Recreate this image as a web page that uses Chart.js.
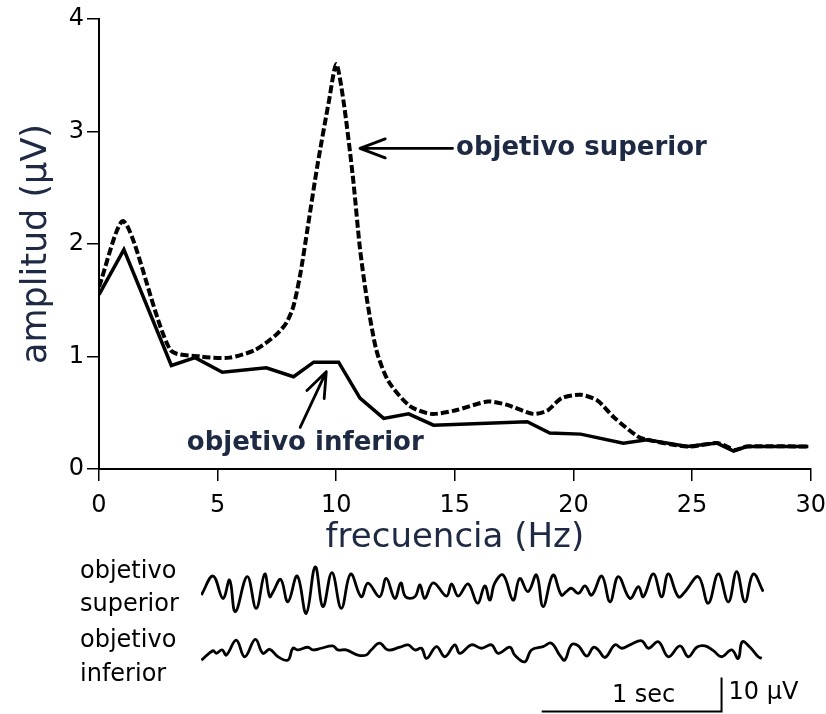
<!DOCTYPE html>
<html>
<head>
<meta charset="utf-8">
<script src="https://cdn.jsdelivr.net/npm/chart.js@4.4.1/dist/chart.umd.min.js"></script>
<style>
  html, body { margin: 0; padding: 0; background: #fff; }
  #wrap { position: relative; width: 826px; height: 714px; overflow: hidden; }
  #espectro { position: absolute; left: 0; top: 0; }
  #trazos { position: absolute; left: 0; top: 555px; }
</style>
</head>
<body>
<div id="wrap">
  <canvas id="espectro" width="836" height="560"></canvas>
  <canvas id="trazos" width="826" height="159"></canvas>
</div>
<script>
// =======================
// DATOS
// =======================
// espectro, objetivo superior (línea discontinua)
const freqSup = [0, 1.05, 3.0, 4.3, 5.5, 6.6, 7.5, 7.9, 8.2, 8.5, 8.8, 9.2, 9.7, 10.0, 10.3, 10.7, 11.0, 11.3, 11.7,
  12.2, 13.1, 14.0, 15.0, 16.4, 17.2, 18.3, 18.9, 19.5, 20.3, 21.0, 21.7, 22.7, 23.1, 24.8, 26.1, 26.8, 27.3, 29.9];
const ampSup = [1.62, 2.2, 1.06, 1.0, 0.99, 1.06, 1.2, 1.3, 1.45, 1.75, 2.15, 2.69, 3.28, 3.6, 3.28, 2.6, 1.96, 1.5, 1.05,
  0.78, 0.56, 0.49, 0.52, 0.6, 0.57, 0.49, 0.52, 0.63, 0.66, 0.61, 0.46, 0.29, 0.26, 0.2, 0.23, 0.17, 0.2, 0.2];

// espectro, objetivo inferior (línea continua)
const freqInf = [0, 1.05, 3.05, 4.05, 5.2, 7.05, 8.2, 9.05, 10.1, 11.0, 12.0, 13.05, 14.1, 18.05, 19.0,
  20.3, 22.1, 23.1, 24.8, 26.05, 26.75, 27.3, 29.9];
const ampInf = [1.55, 1.95, 0.92, 0.99, 0.86, 0.9, 0.82, 0.95, 0.95, 0.63, 0.45, 0.49, 0.39, 0.42, 0.32,
  0.31, 0.23, 0.26, 0.2, 0.23, 0.16, 0.2, 0.2];

const xTicks = [0, 5, 10, 15, 20, 25, 30];
const yTicks = [0, 1, 2, 3, 4];

// registros EEG (segundos, µV)
const tSup = [0.002, 0.067, 0.122, 0.159, 0.191, 0.257, 0.307, 0.354, 0.382, 0.401, 0.443, 0.483, 0.535, 0.585,
  0.635, 0.678, 0.728, 0.780, 0.832, 0.891, 0.928, 0.993, 1.03, 1.078, 1.111, 1.137, 1.189, 1.217, 1.244, 1.291,
  1.365, 1.393, 1.430, 1.485, 1.537, 1.578, 1.606, 1.633, 1.680, 1.735, 1.772, 1.818, 1.865, 1.902, 1.957, 2.004,
  2.031, 2.059, 2.098, 2.135, 2.172, 2.228, 2.274, 2.320, 2.385, 2.432, 2.459, 2.515, 2.561, 2.598, 2.654, 2.691,
  2.765, 2.820, 2.876, 2.932, 2.978, 3.024, 3.070, 3.126];
const uvSup = [-0.9, 4.7, -1.9, 3.5, -5.8, 4.5, -4.8, 5.3, -1.4, 0.1, 3.7, -2.9, 4.7, -6.3,
  7.4, -4.3, 5.7, -4.8, 5.3, -1.4, 2.6, -1.4, 4.0, -1.9, 2.7, -1.4, -1.4, 2.1, -1.9, 2.7,
  -1.2, 2.4, -1.2, 2.4, -3.3, 1.8, -2.4, 2.6, 5.0, -2.4, 4.0, 0.1, 5.0, -4.3, 5.0, -0.9,
  0.1, 1.1, -0.4, 1.8, -0.9, 4.7, -2.9, 4.5, -1.9, 1.6, -1.4, 5.3, -1.4, 5.3, -1.4, 0.1,
  4.5, -3.3, 5.3, -2.9, 6.0, -2.9, 5.3, 0.1];

const tInf = [0.002, 0.067, 0.085, 0.117, 0.141, 0.196, 0.243, 0.302, 0.344, 0.382, 0.428, 0.483, 0.511, 0.539,
  0.594, 0.622, 0.669, 0.733, 0.761, 0.807, 0.872, 0.919, 0.946, 0.993, 1.039, 1.106, 1.152, 1.189, 1.226, 1.254,
  1.309, 1.356, 1.411, 1.439, 1.504, 1.559, 1.615, 1.652, 1.717, 1.744, 1.8, 1.837, 1.902, 1.948, 1.994, 2.022,
  2.059, 2.098, 2.144, 2.182, 2.209, 2.246, 2.302, 2.339, 2.385, 2.450, 2.487, 2.543, 2.598, 2.663, 2.709, 2.756,
  2.802, 2.848, 2.894, 2.950, 2.987, 3.009, 3.052, 3.098, 3.117];
const uvInf = [-2.4, 0.4, -0.4, 0.6, -0.9, 3.5, -1.4, 3.7, -0.4, 0.8, -1.4, -2.4, 1.1, 0.6,
  1.4, 0.6, 1.1, 1.8, 0.6, 0.6, -0.9, -0.9, 0.6, 2.6, 0.6, 1.4, 2.1, 0.6, 1.1, -1.9,
  1.6, -1.4, 2.1, -0.4, 2.1, 1.1, 2.1, -0.4, 1.4, -0.9, -2.9, 0.6, 1.6, 2.6, -0.9, -2.4,
  2.1, 1.8, -1.2, 1.4, 0.6, -1.6, 2.1, 1.1, 2.1, 3.3, 1.1, 3.0, -1.4, 1.8, -1.4, 1.4,
  1.8, 0.4, -1.4, 0.6, -1.9, 3.0, 1.4, -1.4, -1.9];

// barra de escala
const escalaSeg = 1;
const escalaUV = 10;

// =======================
// ESTILO
// =======================
const FONT = "'DejaVu Sans', sans-serif";
const INK = "#000";
const NAVY = "#1e2a44";

const toPoints = (xs, ys) => xs.map((v, i) => ({ x: v, y: ys[i] }));

// flechas y textos sobre el espectro
const anotaciones = {
  id: "anotaciones",
  afterDatasetsDraw(chart, args, opts) {
    const { ctx, scales: { x, y } } = chart;
    ctx.save();
    opts.items.forEach(it => {
      ctx.font = "bold 26px " + FONT;
      ctx.fillStyle = NAVY;
      ctx.textBaseline = "middle";
      ctx.textAlign = "left";
      ctx.fillText(it.label, x.getPixelForValue(it.texto[0]), y.getPixelForValue(it.texto[1]));

      const x0 = x.getPixelForValue(it.cola[0]), y0 = y.getPixelForValue(it.cola[1]);
      const x1 = x.getPixelForValue(it.punta[0]), y1 = y.getPixelForValue(it.punta[1]);
      const ang = Math.atan2(y0 - y1, x0 - x1);
      ctx.strokeStyle = INK;
      ctx.lineWidth = 2.8;
      ctx.lineCap = "round";
      ctx.beginPath();
      ctx.moveTo(x0, y0);
      ctx.lineTo(x1, y1);
      [-1, 1].forEach(s => {
        ctx.moveTo(x1, y1);
        ctx.lineTo(x1 + 27 * Math.cos(ang + s * 0.36), y1 + 27 * Math.sin(ang + s * 0.36));
      });
      ctx.stroke();
    });
    ctx.restore();
  }
};

new Chart(document.getElementById("espectro"), {
  type: "line",
  data: {
    datasets: [
      {
        label: "objetivo superior",
        data: toPoints(freqSup, ampSup),
        borderColor: INK,
        borderWidth: 4,
        borderDash: [8, 3],
        pointRadius: 0,
        tension: 0.25,
        fill: false
      },
      {
        label: "objetivo inferior",
        data: toPoints(freqInf, ampInf),
        borderColor: INK,
        borderWidth: 3.5,
        pointRadius: 0,
        tension: 0,
        fill: false
      }
    ]
  },
  options: {
    responsive: false,
    animation: false,
    devicePixelRatio: 1,
    layout: { padding: { left: 0, right: 6, top: 19, bottom: 0 } },
    plugins: {
      legend: { display: false },
      tooltip: { enabled: false },
      anotaciones: {
        items: [
          { label: "objetivo superior", texto: [15.05, 2.85], cola: [14.9, 2.85], punta: [11.0, 2.85] },
          { label: "objetivo inferior", texto: [3.7, 0.228], cola: [8.48, 0.37], punta: [9.58, 0.865] }
        ]
      }
    },
    scales: {
      x: {
        type: "linear",
        min: 0,
        max: 30,
        afterBuildTicks: s => { s.ticks = xTicks.map(v => ({ value: v })); },
        afterFit: s => { s.height = 91; },
        border: { color: INK, width: 2 },
        grid: { drawOnChartArea: false, drawTicks: true, tickLength: 12, color: INK, lineWidth: 1.5 },
        ticks: { color: INK, font: { family: FONT, size: 24 }, padding: 10, maxRotation: 0 },
        title: {
          display: true, text: "frecuencia (Hz)", color: NAVY,
          font: { family: FONT, size: 34 }, padding: { top: 0, bottom: 1 }
        }
      },
      y: {
        min: 0,
        max: 4,
        afterBuildTicks: s => { s.ticks = yTicks.map(v => ({ value: v })); },
        afterFit: s => { s.width = 99; },
        border: { color: INK, width: 2 },
        grid: { drawOnChartArea: false, drawTicks: true, tickLength: 12, color: INK, lineWidth: 1.5 },
        ticks: { color: INK, font: { family: FONT, size: 24 }, padding: 3 },
        title: {
          display: true, text: "amplitud (µV)", color: NAVY,
          font: { family: FONT, size: 35 }, padding: { top: 16, bottom: 0 }
        }
      }
    }
  },
  plugins: [anotaciones]
});

// rótulos y barra de escala de los registros
const rotulos = {
  id: "rotulos",
  afterDraw(chart, args, opts) {
    const { ctx, scales: { x, y2 } } = chart;
    ctx.save();
    ctx.fillStyle = INK;
    ctx.font = "24px " + FONT;
    ctx.textBaseline = "middle";
    ctx.textAlign = "left";
    opts.lineas.forEach(l => ctx.fillText(l.text, l.x, l.y));

    // barra de escala
    const xa = x.getPixelForValue(opts.barraFin - escalaSeg);
    const xb = x.getPixelForValue(opts.barraFin);
    const yb = y2.getPixelForValue(opts.barraBase);
    const yt = y2.getPixelForValue(opts.barraBase + escalaUV);
    ctx.strokeStyle = INK;
    ctx.lineWidth = 2;
    ctx.beginPath();
    ctx.moveTo(xa, yb);
    ctx.lineTo(xb, yb);
    ctx.lineTo(xb, yt);
    ctx.stroke();
    ctx.textAlign = "center";
    ctx.fillText(escalaSeg + " sec", (xa + xb) / 2 + 12, yb - 16);
    ctx.textAlign = "left";
    ctx.fillText(escalaUV + " µV", xb + 7, yt + 15);
    ctx.restore();
  }
};

new Chart(document.getElementById("trazos"), {
  type: "line",
  data: {
    datasets: [
      {
        label: "objetivo superior",
        data: toPoints(tSup, uvSup),
        yAxisID: "y1",
        borderColor: INK,
        borderWidth: 2.8,
        pointRadius: 0,
        tension: 0.4,
        fill: false
      },
      {
        label: "objetivo inferior",
        data: toPoints(tInf, uvInf),
        yAxisID: "y2",
        borderColor: INK,
        borderWidth: 2.8,
        pointRadius: 0,
        tension: 0.4,
        fill: false
      }
    ]
  },
  options: {
    responsive: false,
    animation: false,
    devicePixelRatio: 1,
    layout: { padding: { left: 201, right: 62, top: 0, bottom: 0 } },
    plugins: {
      legend: { display: false },
      tooltip: { enabled: false },
      rotulos: {
        lineas: [
          { text: "objetivo", x: 80, y: 17 },
          { text: "superior", x: 80, y: 50 },
          { text: "objetivo", x: 80, y: 86 },
          { text: "inferior", x: 80, y: 120 }
        ],
        barraFin: 2.894,
        barraBase: -17.5
      }
    },
    scales: {
      x: { type: "linear", min: 0, max: 3.13, display: false },
      y1: { min: -35.88, max: 10.88, display: false },
      y2: { min: -18.24, max: 28.53, display: false }
    }
  },
  plugins: [rotulos]
});
</script>
</body>
</html>
